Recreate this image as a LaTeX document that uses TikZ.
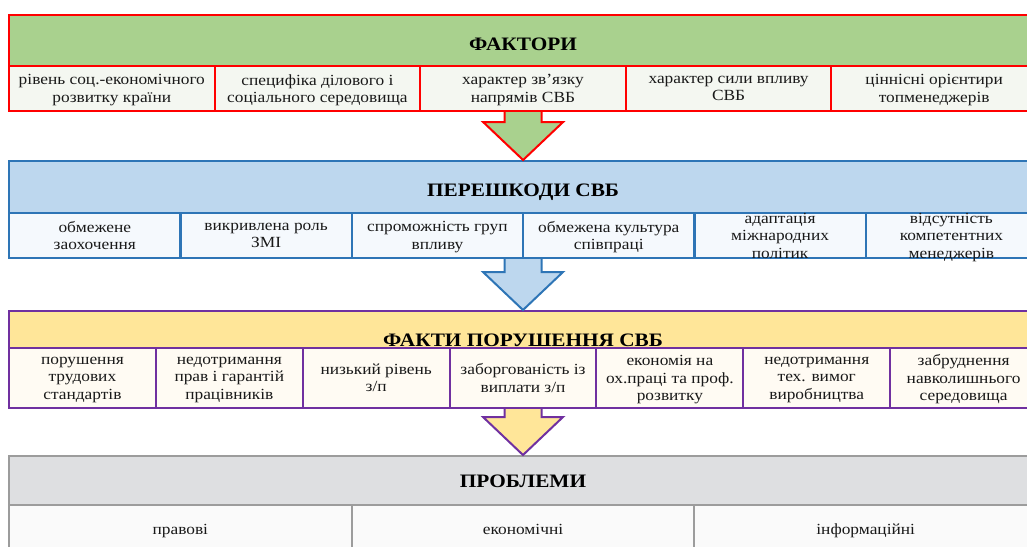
\documentclass[tikz,border=0pt]{standalone}
\usepackage{fontspec}
\setmainfont{Liberation Serif}[FakeStretch=1.12]
\usepackage{tikz}
\usetikzlibrary{calc}
\definecolor{redline}{HTML}{FF0000}
\definecolor{greenfill}{HTML}{A9D18E}
\definecolor{greencell}{HTML}{F4F7F1}
\definecolor{blueline}{HTML}{2E75B6}
\definecolor{bluefill}{HTML}{BDD7EE}
\definecolor{bluecell}{HTML}{F5F9FD}
\definecolor{purpleline}{HTML}{7030A0}
\definecolor{yellowfill}{HTML}{FFE699}
\definecolor{yellowcell}{HTML}{FFFBF3}
\definecolor{grayline}{HTML}{9C9C9C}
\definecolor{grayfill}{HTML}{DEDFE1}
\definecolor{graycell}{HTML}{FAFAFA}
\newcommand{\headfont}{\fontsize{19}{22}\selectfont\bfseries}
\newcommand{\cellfont}{\fontsize{15.5}{17.5}\selectfont}
\tikzstyle{head}=[anchor=north west,inner sep=0pt,minimum width=1028pt,font=\headfont,text depth=0pt,text=black]
\tikzstyle{cell}=[anchor=north west,inner sep=0pt]
\tikzstyle{cell text}=[inner sep=0pt,align=center,font=\cellfont,text=black!90,yshift=-2.5pt,
  execute at begin node=\strut,execute at end node=\strut]
\tikzstyle{red box}=[draw=redline,line width=2pt]
\tikzstyle{blue box}=[draw=blueline,line width=2.2pt]
\tikzstyle{purple box}=[draw=purpleline,line width=2pt]
\tikzstyle{gray box}=[draw=grayline,line width=2pt]
\tikzstyle{red arrow}=[draw=redline,fill=greenfill,line width=2pt,line join=miter]
\tikzstyle{blue arrow}=[draw=blueline,fill=bluefill,line width=2pt,line join=miter]
\tikzstyle{purple arrow}=[draw=purpleline,fill=yellowfill,line width=2pt,line join=miter]
% block arrow from a cell bottom (#2) down to the tip (#3)
\newcommand{\blockarrow}[3]{%
  \draw[#1] ($(#2)+(-18.5,0)$) -- ($(#3)+(-18.5,-38)$) -- ($(#3)+(-40,-38)$) -- (#3)
    -- ($(#3)+(40,-38)$) -- ($(#3)+(18.5,-38)$) -- ($(#2)+(18.5,0)$);}

\begin{document}
\begin{tikzpicture}[x=1pt,y=-1pt]
        \useasboundingbox (0,0) rectangle (1027,546);
        \clip (0,0) rectangle (1027,546);
        % factors
        \node[head,red box,fill=greenfill,minimum height=51pt,text height=19pt] (fact) at (8,14) {ФАКТОРИ};
        \foreach \t [count=\i] in {{рівень соц.-економічного\\розвитку країни},{специфіка ділового і\\соціального середовища},{характер зв’язку\\напрямів СВБ},{характер сили впливу\\СВБ},{ціннісні орієнтири\\топменеджерів}}
          \node[cell,red box,fill=greencell,minimum width=205.6pt,minimum height=45pt,
            label={[cell text]center:{\t}}] (f\i) at ({8+(\i-1)*205.6},65) {};
        % obstacles
        \node[head,blue box,fill=bluefill,minimum height=52pt,text height=19pt] (pere) at (8,160) {ПЕРЕШКОДИ СВБ};
        \foreach \t [count=\i] in {{обмежене\\заохочення},{викривлена роль\\ЗМІ},{спроможність груп\\впливу},{обмежена культура\\співпраці},{адаптація\\міжнародних\\політик},{відсутність\\компетентних\\менеджерів}}
          \node[cell,blue box,fill=bluecell,minimum width=171.33pt,minimum height=45pt,
            label={[cell text]center:{\t}}] (p\i) at ({8+(\i-1)*171.33},212) {};
        % violations
        \node[head,purple box,fill=yellowfill,minimum height=37pt,text height=33pt] (port) at (8,310) {ФАКТИ ПОРУШЕННЯ СВБ};
        \foreach \t [count=\i] in {{порушення\\трудових\\стандартів},{недотримання\\прав і гарантій\\працівників},{низький рівень\\з/п},{заборгованість із\\виплати з/п},{економія на\\ох.праці та проф.\\розвитку},{недотримання\\тех. вимог\\виробництва},{забруднення\\навколишнього\\середовища}}
          \node[cell,purple box,fill=yellowcell,minimum width=146.86pt,minimum height=60pt,
            label={[cell text]center:{\t}}] (v\i) at ({8+(\i-1)*146.86},347) {};
        % problems
        \node[head,gray box,fill=grayfill,minimum height=49pt,text height=14pt] (prob) at (8,455) {ПРОБЛЕМИ};
        \foreach \t [count=\i] in {правові,економічні,інформаційні}
          \node[cell,gray box,fill=graycell,minimum width=342.67pt,minimum height=46pt,
            label={[cell text]center:{\t}}] (r\i) at ({8+(\i-1)*342.67},504) {};
        % arrows
        \coordinate (a1) at (fact |- f1.south);
        \coordinate (a2) at (pere |- p1.south);
        \coordinate (a3) at (port |- v1.south);
        \blockarrow{red arrow}{a1}{pere.north}
        \blockarrow{blue arrow}{a2}{port.north}
        \blockarrow{purple arrow}{a3}{prob.north}
      \end{tikzpicture}
\end{document}
